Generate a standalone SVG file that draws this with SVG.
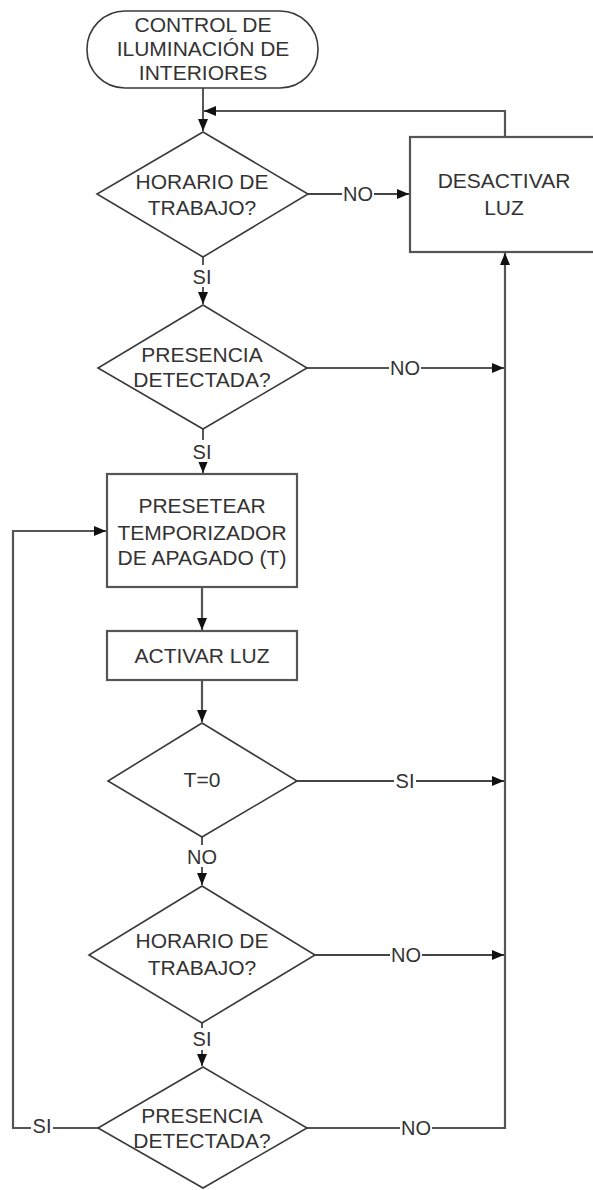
<svg xmlns="http://www.w3.org/2000/svg" width="593" height="1190" viewBox="0 0 593 1190">
  <defs>
    <marker id="arrow" viewBox="0 0 12 10" refX="12" refY="5" markerWidth="12" markerHeight="10" markerUnits="userSpaceOnUse" orient="auto">
      <path d="M0,0 L12,5 L0,10 Z" fill="#111"/>
    </marker>
    <style>
      .shape { fill: #fff; stroke: #3a3a3a; stroke-width: 1.6; }
      .box { fill: #fff; stroke: #555; stroke-width: 2.2; }
      .txt { font-family: "Liberation Sans", Arial, sans-serif; font-size: 21px; fill: #333; text-anchor: middle; }
      .lbl { font-family: "Liberation Sans", Arial, sans-serif; font-size: 20px; fill: #333; text-anchor: middle; }
      .wire { fill: none; stroke: #444; stroke-width: 1.8; }
      .bus { fill: none; stroke: #555; stroke-width: 2.2; }
      .gap { fill: #fff; }
    </style>
  </defs>
  <rect width="593" height="1190" fill="#fff"/>

  <!-- connectors -->
  <g id="connectors">
    <!-- start to first decision -->
    <path class="wire" d="M203,88 V131" marker-end="url(#arrow)"/>
    <!-- return from DESACTIVAR LUZ to the top -->
    <path class="bus" d="M505,137 V111 H204" marker-end="url(#arrow)"/>
    <!-- decision 1 -->
    <path class="wire" d="M308,194 H409" marker-end="url(#arrow)"/>
    <path class="wire" d="M203,257 V304" marker-end="url(#arrow)"/>
    <!-- decision 2 -->
    <path class="bus" d="M307,368 H504" marker-end="url(#arrow)"/>
    <path class="wire" d="M203,429 V473" marker-end="url(#arrow)"/>
    <!-- process chain -->
    <path class="bus" d="M202,587 V630" marker-end="url(#arrow)"/>
    <path class="bus" d="M202,680 V722" marker-end="url(#arrow)"/>
    <!-- decision 3 -->
    <path class="wire" d="M297,781 H504" marker-end="url(#arrow)"/>
    <path class="wire" d="M202,837 V885" marker-end="url(#arrow)"/>
    <!-- decision 4 -->
    <path class="wire" d="M315,955 H504" marker-end="url(#arrow)"/>
    <path class="wire" d="M202,1023 V1066" marker-end="url(#arrow)"/>
    <!-- decision 5: NO to the collector, SI back to preset -->
    <path class="bus" d="M307,1128 H505 V253" marker-end="url(#arrow)"/>
    <path class="bus" d="M98,1128 H13 V531 H106" marker-end="url(#arrow)"/>

    <!-- branch labels -->
    <rect class="gap" x="342" y="183" width="32" height="22"/>
    <text class="lbl" x="358" y="201">NO</text>
    <rect class="gap" x="191" y="265" width="22" height="22"/>
    <text class="lbl" x="202" y="284">SI</text>
    <rect class="gap" x="389" y="357" width="32" height="22"/>
    <text class="lbl" x="405" y="375">NO</text>
    <rect class="gap" x="191" y="440" width="22" height="22"/>
    <text class="lbl" x="202" y="459">SI</text>
    <rect class="gap" x="394" y="770" width="22" height="22"/>
    <text class="lbl" x="405" y="788">SI</text>
    <rect class="gap" x="186" y="845" width="32" height="22"/>
    <text class="lbl" x="202" y="864">NO</text>
    <rect class="gap" x="390" y="944" width="32" height="22"/>
    <text class="lbl" x="406" y="962">NO</text>
    <rect class="gap" x="191" y="1028" width="22" height="22"/>
    <text class="lbl" x="202" y="1046">SI</text>
    <rect class="gap" x="400" y="1117" width="32" height="22"/>
    <text class="lbl" x="416" y="1135">NO</text>
    <rect class="gap" x="31" y="1115" width="22" height="22"/>
    <text class="lbl" x="42" y="1133">SI</text>
  </g>

  <g id="start">
    <rect class="shape" x="87" y="11" width="231" height="77" rx="38" ry="38"/>
    <text class="txt" x="203" y="32">CONTROL DE</text>
    <text class="txt" x="203" y="56">ILUMINACIÓN DE</text>
    <text class="txt" x="203" y="80">INTERIORES</text>
  </g>

  <g id="decision-horario-1">
    <polygon class="shape" points="203,132 308,194 203,257 97,194"/>
    <text class="txt" x="202" y="189">HORARIO DE</text>
    <text class="txt" x="202" y="215">TRABAJO?</text>
  </g>

  <g id="desactivar-luz">
    <rect class="box" x="410" y="137" width="200" height="115"/>
    <text class="txt" x="504" y="188">DESACTIVAR</text>
    <text class="txt" x="504" y="215">LUZ</text>
  </g>

  <g id="decision-presencia-1">
    <polygon class="shape" points="203,305 307,368 203,429 98,368"/>
    <text class="txt" x="202" y="362">PRESENCIA</text>
    <text class="txt" x="202" y="387">DETECTADA?</text>
  </g>

  <g id="presetear-temporizador">
    <rect class="box" x="107" y="474" width="190" height="113"/>
    <text class="txt" x="202" y="513">PRESETEAR</text>
    <text class="txt" x="202" y="540">TEMPORIZADOR</text>
    <text class="txt" x="202" y="565">DE APAGADO (T)</text>
  </g>

  <g id="activar-luz">
    <rect class="box" x="107" y="631" width="190" height="49"/>
    <text class="txt" x="202" y="663">ACTIVAR LUZ</text>
  </g>

  <g id="decision-timer">
    <polygon class="shape" points="202,723 297,781 202,837 108,781"/>
    <text class="txt" x="202" y="787">T=0</text>
  </g>

  <g id="decision-horario-2">
    <polygon class="shape" points="202,886 315,955 202,1023 89,955"/>
    <text class="txt" x="202" y="948">HORARIO DE</text>
    <text class="txt" x="202" y="975">TRABAJO?</text>
  </g>

  <g id="decision-presencia-2">
    <polygon class="shape" points="203,1067 307,1128 203,1188 98,1128"/>
    <text class="txt" x="202" y="1123">PRESENCIA</text>
    <text class="txt" x="202" y="1148">DETECTADA?</text>
  </g>
</svg>
